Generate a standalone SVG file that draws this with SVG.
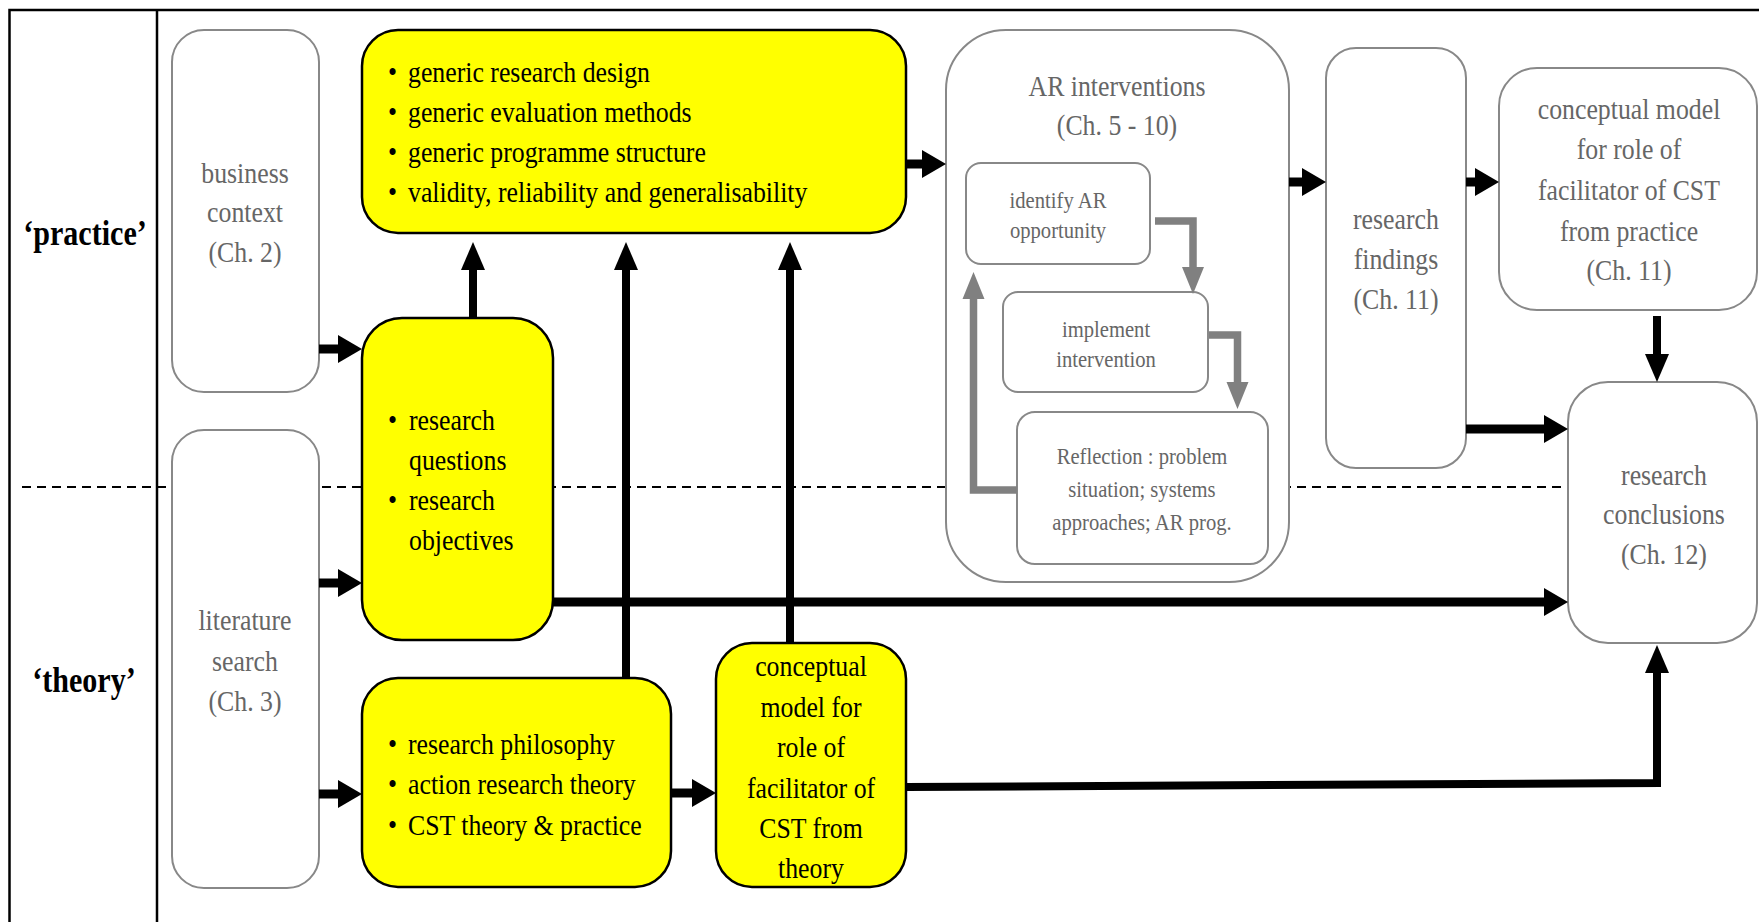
<svg xmlns="http://www.w3.org/2000/svg" width="1759" height="922" viewBox="0 0 1759 922">
  <style>
    text { font-family: "Liberation Serif", "Times New Roman", serif; }
    .t { font-size: 30px; fill: #000; }
    .g { fill: #666; }
    .s { font-size: 24px; }
    .b { font-size: 35px; font-weight: bold; }
    .c { text-anchor: middle; transform-box: fill-box; transform-origin: center; transform: scaleX(0.86); }
    .l { text-anchor: start; transform-box: fill-box; transform-origin: left; transform: scaleX(0.86); }
    .frame { fill: none; stroke: #000; stroke-width: 2.5; }
    .dash { fill: none; stroke: #000; stroke-width: 2; stroke-dasharray: 9 6; }
    .ybox { fill: #ffff00; stroke: #000; stroke-width: 2.5; }
    .gbox { fill: #fff; stroke: #888; stroke-width: 2; }
    .ah { fill: none; stroke: #000; stroke-width: 9; marker-end: url(#mh); }
    .av { fill: none; stroke: #000; stroke-width: 8; marker-end: url(#mv); }
    .gl { fill: none; stroke: #808080; stroke-width: 7.5; stroke-linejoin: miter; marker-end: url(#mg); }
  </style>
  <defs>
    <!-- arrowhead for horizontal black connectors: 24 long, 28 wide -->
    <marker id="mh" markerUnits="userSpaceOnUse" markerWidth="24" markerHeight="28" refX="1" refY="14" orient="auto" overflow="visible">
      <path d="M0,0 L24,14 L0,28 Z" fill="#000"/>
    </marker>
    <!-- arrowhead for vertical black connectors: 28 long, 24 wide -->
    <marker id="mv" markerUnits="userSpaceOnUse" markerWidth="28" markerHeight="24" refX="1" refY="12" orient="auto" overflow="visible">
      <path d="M0,0 L28,12 L0,24 Z" fill="#000"/>
    </marker>
    <!-- arrowhead for the grey cycle arrows -->
    <marker id="mg" markerUnits="userSpaceOnUse" markerWidth="27" markerHeight="22" refX="1" refY="11" orient="auto" overflow="visible">
      <path d="M0,0 L27,11 L0,22 Z" fill="#808080"/>
    </marker>
  </defs>

  <!-- frame and lane divider -->
  <g id="frame">
    <path class="frame" d="M9.5,922 V10 H1759"/>
    <path class="frame" d="M157,10 V922"/>
    <path class="dash" d="M22,487 H1568"/>
    <text class="b c" x="85" y="245">‘practice’</text>
    <text class="b c" x="84" y="692">‘theory’</text>
  </g>

  <g id="business-context">
    <rect class="gbox" x="172" y="30" width="147" height="362" rx="32"/>
    <text class="t g c" x="245" y="183">business</text>
    <text class="t g c" x="245" y="222">context</text>
    <text class="t g c" x="245" y="262">(Ch. 2)</text>
  </g>

  <g id="literature-search">
    <rect class="gbox" x="172" y="430" width="147" height="458" rx="32"/>
    <text class="t g c" x="245" y="630">literature</text>
    <text class="t g c" x="245" y="671">search</text>
    <text class="t g c" x="245" y="711">(Ch. 3)</text>
  </g>

  <g id="research-design">
    <rect class="ybox" x="362" y="30" width="544" height="203" rx="36"/>
    <text class="t l" x="388" y="82">•</text>
    <text class="t l" x="408" y="82">generic research design</text>
    <text class="t l" x="388" y="122">•</text>
    <text class="t l" x="408" y="122">generic evaluation methods</text>
    <text class="t l" x="388" y="162">•</text>
    <text class="t l" x="408" y="162">generic programme structure</text>
    <text class="t l" x="388" y="202">•</text>
    <text class="t l" x="408" y="202">validity, reliability and generalisability</text>
  </g>

  <g id="research-questions">
    <rect class="ybox" x="362" y="318" width="191" height="322" rx="40"/>
    <text class="t l" x="388" y="430">•</text>
    <text class="t l" x="409" y="430">research</text>
    <text class="t l" x="409" y="470">questions</text>
    <text class="t l" x="388" y="510">•</text>
    <text class="t l" x="409" y="510">research</text>
    <text class="t l" x="409" y="550">objectives</text>
  </g>

  <g id="research-philosophy">
    <rect class="ybox" x="362" y="678" width="309" height="209" rx="36"/>
    <text class="t l" x="388" y="754">•</text>
    <text class="t l" x="408" y="754">research philosophy</text>
    <text class="t l" x="388" y="794">•</text>
    <text class="t l" x="408" y="794">action research theory</text>
    <text class="t l" x="388" y="835">•</text>
    <text class="t l" x="408" y="835">CST theory &amp; practice</text>
  </g>

  <g id="model-from-theory">
    <rect class="ybox" x="716" y="643" width="190" height="244" rx="36"/>
    <text class="t c" x="811" y="676">conceptual</text>
    <text class="t c" x="811" y="717">model for</text>
    <text class="t c" x="811" y="757">role of</text>
    <text class="t c" x="811" y="798">facilitator of</text>
    <text class="t c" x="811" y="838">CST from</text>
    <text class="t c" x="811" y="878">theory</text>
  </g>

  <g id="ar-interventions">
    <rect class="gbox" x="946" y="30" width="343" height="552" rx="60"/>
    <text class="t g c" x="1117" y="96">AR interventions</text>
    <text class="t g c" x="1117" y="135">(Ch. 5 - 10)</text>
  </g>

  <g id="identify-opportunity">
    <rect class="gbox" x="966" y="163" width="184" height="101" rx="15"/>
    <text class="t s g c" x="1058" y="208">identify AR</text>
    <text class="t s g c" x="1058" y="238">opportunity</text>
  </g>

  <g id="implement-intervention">
    <rect class="gbox" x="1003" y="292" width="205" height="100" rx="15"/>
    <text class="t s g c" x="1106" y="337">implement</text>
    <text class="t s g c" x="1106" y="367">intervention</text>
  </g>

  <g id="reflection">
    <rect class="gbox" x="1017" y="412" width="251" height="152" rx="18"/>
    <text class="t s g c" x="1142" y="464">Reflection : problem</text>
    <text class="t s g c" x="1142" y="497">situation; systems</text>
    <text class="t s g c" x="1142" y="530">approaches; AR prog.</text>
  </g>

  <g id="research-findings">
    <rect class="gbox" x="1326" y="48" width="140" height="420" rx="30"/>
    <text class="t g c" x="1396" y="229">research</text>
    <text class="t g c" x="1396" y="269">findings</text>
    <text class="t g c" x="1396" y="309">(Ch. 11)</text>
  </g>

  <g id="model-from-practice">
    <rect class="gbox" x="1499" y="68" width="258" height="242" rx="38"/>
    <text class="t g c" x="1629" y="119">conceptual model</text>
    <text class="t g c" x="1629" y="159">for role of</text>
    <text class="t g c" x="1629" y="200">facilitator of CST</text>
    <text class="t g c" x="1629" y="241">from practice</text>
    <text class="t g c" x="1629" y="280">(Ch. 11)</text>
  </g>

  <g id="research-conclusions">
    <rect class="gbox" x="1568" y="382" width="189" height="261" rx="40"/>
    <text class="t g c" x="1664" y="485">research</text>
    <text class="t g c" x="1664" y="524">conclusions</text>
    <text class="t g c" x="1664" y="564">(Ch. 12)</text>
  </g>

  <g id="connectors">
    <!-- inputs into the yellow research-design boxes -->
    <path class="ah" d="M319,349 H339"/>
    <path class="ah" d="M319,583 H339"/>
    <path class="ah" d="M319,794 H339"/>
    <path class="av" d="M473,318 V269"/>
    <path class="av" d="M626,678 V269"/>
    <path class="av" d="M790,643 V269"/>
    <path class="ah" d="M671,793 H693"/>
    <!-- onward flow through the practice lane -->
    <path class="ah" d="M906,164 H923"/>
    <path class="ah" d="M1289,182 H1303"/>
    <path class="ah" d="M1466,182 H1476"/>
    <path class="av" d="M1657,316 V355"/>
    <path class="ah" d="M1466,429 H1545"/>
    <!-- long links into research conclusions -->
    <path class="ah" d="M553,602 H1545"/>
    <path class="av" d="M906,787 L1657,783 V672"/>
    <!-- action research cycle -->
    <path class="gl" d="M1155,221 H1193 V268"/>
    <path class="gl" d="M1209,335 H1237.5 V383"/>
    <path class="gl" d="M1017,490 H973.5 V298"/>
  </g>
</svg>
